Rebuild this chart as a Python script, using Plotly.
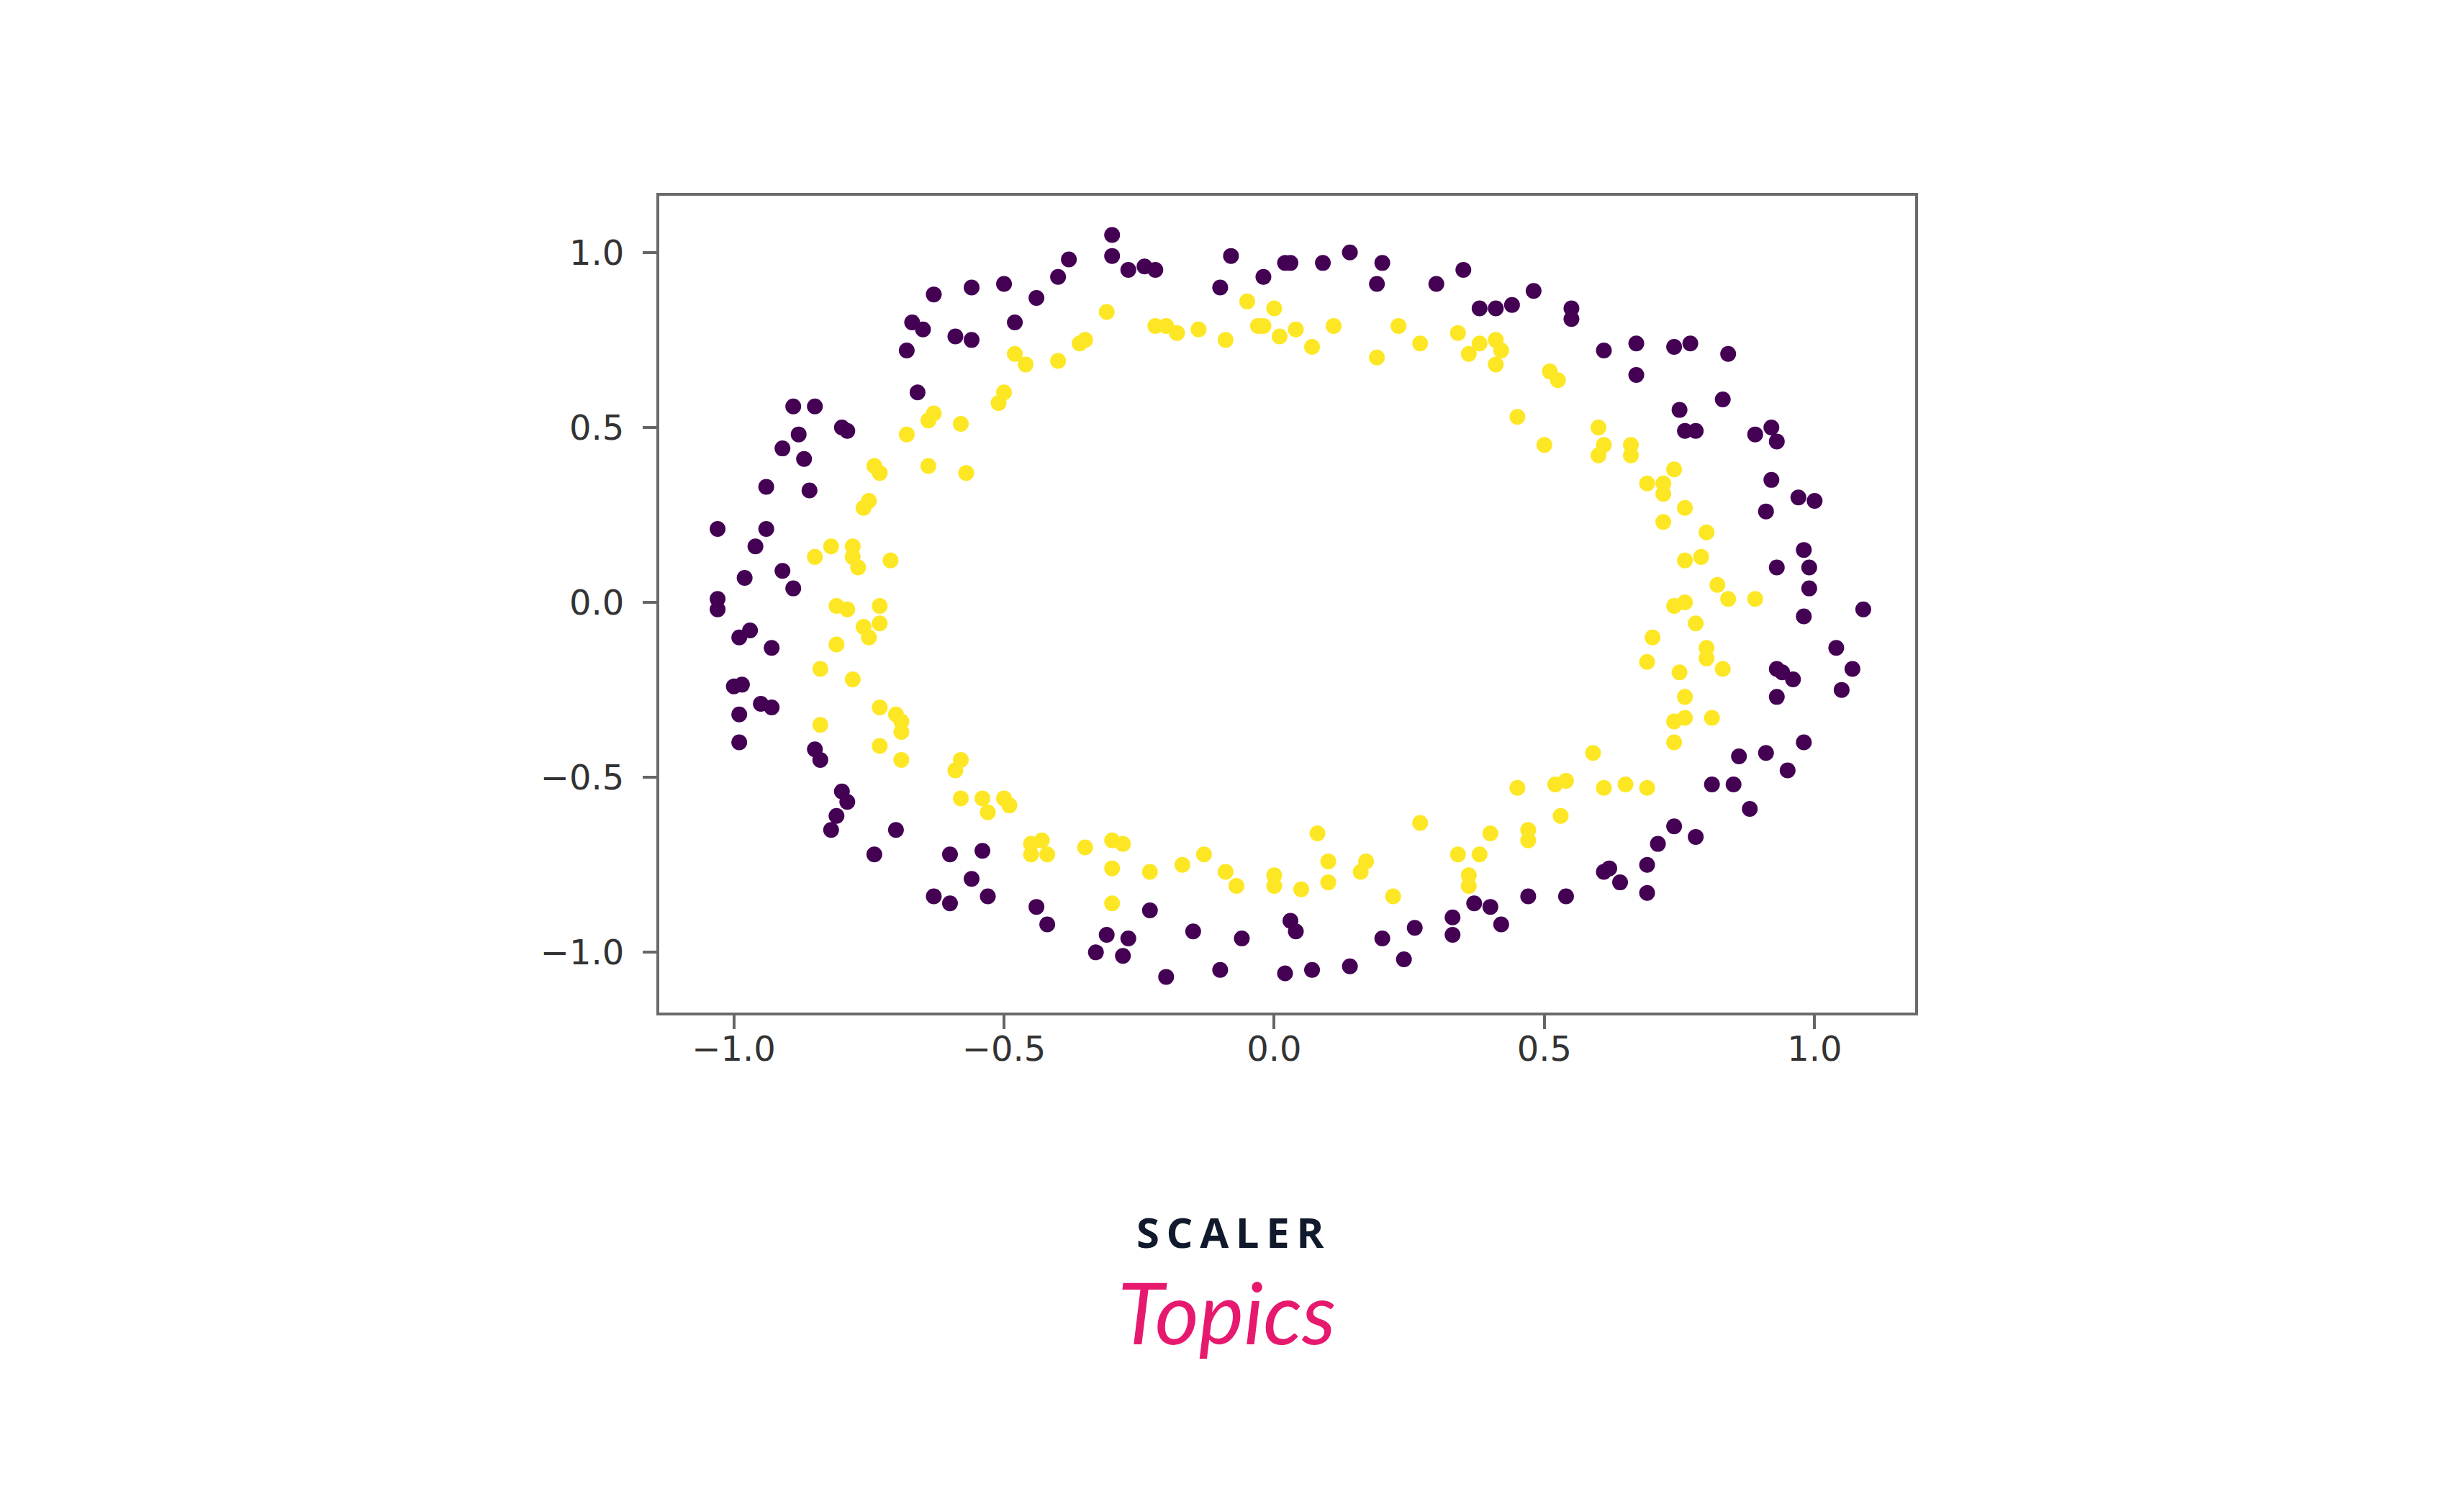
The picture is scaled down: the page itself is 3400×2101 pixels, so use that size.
import plotly.graph_objects as go

# class 0 (outer ring, purple)
outer_x = [-0.38, -0.40, -0.50, -0.56, -0.63, -0.44, -0.48, -0.67, -0.65, -0.59, -0.56, -0.68, -0.66,
           -0.89, -0.85, -0.80, -0.79, -0.88, -0.91, -0.87, -0.94, -0.86, -1.03, -0.94, -0.96, -0.91,
           -0.98, -0.89, -1.03, -1.03,
           -0.99, -0.97, -0.93, -1.00, -0.985, -0.95, -0.93, -0.99, -0.99, -0.85, -0.84, -0.80, -0.79,
           -0.81, -0.82, -0.70, -0.74, -0.60, -0.54, -0.56, -0.63, -0.60, -0.53, -0.44, -0.42,
           -0.33, -0.31, -0.27, -0.28, -0.23, -0.20, -0.15, -0.10, -0.06, 0.02, 0.03, 0.04, 0.07, 0.14,
           0.20, 0.24, 0.26, 0.33, 0.33, 0.37, 0.40,
           0.98, 1.04, 0.93, 0.94, 0.96, 1.07, 1.05, 0.93, 0.98, 0.86, 0.91, 0.95, 0.81, 0.85, 0.88,
           0.74, 0.78, 0.71, 0.69, 0.62, 0.61, 0.64, 0.69, 0.47, 0.54, 0.42,
           -0.30, -0.30, -0.27, -0.24, -0.22, -0.08, -0.10, -0.02, 0.02, 0.03, 0.09, 0.14, 0.20, 0.19,
           0.30, 0.35, 0.38, 0.41,
           0.44, 0.48, 0.55, 0.55, 0.61, 0.67, 0.74, 0.77, 0.84, 0.67, 0.83, 0.75, 0.76, 0.78, 0.89,
           0.92, 0.93, 0.92, 0.97, 1.00, 0.91, 0.98, 0.99, 0.93, 0.99, 1.09]
outer_y = [0.98, 0.93, 0.91, 0.90, 0.88, 0.87, 0.80, 0.80, 0.78, 0.76, 0.75, 0.72, 0.60,
           0.56, 0.56, 0.50, 0.49, 0.48, 0.44, 0.41, 0.33, 0.32, 0.21, 0.21, 0.16, 0.09,
           0.07, 0.04, 0.01, -0.02,
           -0.10, -0.08, -0.13, -0.24, -0.235, -0.29, -0.30, -0.32, -0.40, -0.42, -0.45, -0.54, -0.57,
           -0.61, -0.65, -0.65, -0.72, -0.72, -0.71, -0.79, -0.84, -0.86, -0.84, -0.87, -0.92,
           -1.00, -0.95, -0.96, -1.01, -0.88, -1.07, -0.94, -1.05, -0.96, -1.06, -0.91, -0.94, -1.05, -1.04,
           -0.96, -1.02, -0.93, -0.95, -0.90, -0.86, -0.87,
           -0.04, -0.13, -0.19, -0.20, -0.22, -0.19, -0.25, -0.27, -0.40, -0.44, -0.43, -0.48, -0.52, -0.52, -0.59,
           -0.64, -0.67, -0.69, -0.75, -0.76, -0.77, -0.80, -0.83, -0.84, -0.84, -0.92,
           1.05, 0.99, 0.95, 0.96, 0.95, 0.99, 0.90, 0.93, 0.97, 0.97, 0.97, 1.00, 0.97, 0.91,
           0.91, 0.95, 0.84, 0.84,
           0.85, 0.89, 0.84, 0.81, 0.72, 0.74, 0.73, 0.74, 0.71, 0.65, 0.58, 0.55, 0.49, 0.49, 0.48,
           0.50, 0.46, 0.35, 0.30, 0.29, 0.26, 0.15, 0.10, 0.10, 0.04, -0.02]

# class 1 (inner ring, yellow)
inner_x = [-0.48, -0.46, -0.40, -0.50, -0.51, -0.63, -0.64, -0.58, -0.68, -0.74, -0.73, -0.64, -0.57,
           -0.75, -0.76, -0.82, -0.78, -0.78, -0.77, -0.85, -0.71,
           -0.81, -0.79, -0.73, -0.76, -0.75, -0.73, -0.81, -0.84, -0.78, -0.73, -0.70, -0.69, -0.69,
           -0.84, -0.73, -0.69, -0.58, -0.59, -0.58, -0.54, -0.53, -0.50, -0.49, -0.45, -0.45, -0.43, -0.42,
           -0.35, -0.30, -0.28, -0.30, -0.23, -0.17, -0.13, -0.09, -0.07, -0.30, 0.00, 0.00, 0.05, 0.08,
           0.10, 0.10, 0.17, 0.16, 0.22, 0.27, 0.34, 0.36, 0.36, 0.38, 0.40,
           0.74, 0.84, 0.89, 0.78, 0.70, 0.69, 0.80, 0.80, 0.83, 0.75, 0.76, 0.74, 0.76, 0.81, 0.74,
           0.59, 0.45, 0.52, 0.54, 0.61, 0.65, 0.69, 0.53, 0.47, 0.47,
           -0.36, -0.35, -0.31, -0.22, -0.20, -0.18, -0.14, -0.09, -0.05, 0.00, -0.03, -0.02, 0.01, 0.04,
           0.07, 0.11, 0.19, 0.23, 0.27, 0.34, 0.38, 0.36,
           0.41, 0.42, 0.41, 0.51, 0.525, 0.45, 0.50, 0.60, 0.61, 0.60, 0.66, 0.66, 0.74, 0.69, 0.72,
           0.72, 0.76, 0.72, 0.80, 0.76, 0.79, 0.82, 0.76]
inner_y = [0.71, 0.68, 0.69, 0.60, 0.57, 0.54, 0.52, 0.51, 0.48, 0.39, 0.37, 0.39, 0.37,
           0.29, 0.27, 0.16, 0.16, 0.13, 0.10, 0.13, 0.12,
           -0.01, -0.02, -0.01, -0.07, -0.10, -0.06, -0.12, -0.19, -0.22, -0.30, -0.32, -0.34, -0.37,
           -0.35, -0.41, -0.45, -0.45, -0.48, -0.56, -0.56, -0.60, -0.56, -0.58, -0.72, -0.69, -0.68, -0.72,
           -0.70, -0.68, -0.69, -0.76, -0.77, -0.75, -0.72, -0.77, -0.81, -0.86, -0.78, -0.81, -0.82, -0.66,
           -0.74, -0.80, -0.74, -0.77, -0.84, -0.63, -0.72, -0.78, -0.81, -0.72, -0.66,
           -0.01, 0.01, 0.01, -0.06, -0.10, -0.17, -0.13, -0.16, -0.19, -0.20, -0.27, -0.34, -0.33, -0.33, -0.40,
           -0.43, -0.53, -0.52, -0.51, -0.53, -0.52, -0.53, -0.61, -0.65, -0.68,
           0.74, 0.75, 0.83, 0.79, 0.79, 0.77, 0.78, 0.75, 0.86, 0.84, 0.79, 0.79, 0.76, 0.78,
           0.73, 0.79, 0.70, 0.79, 0.74, 0.77, 0.74, 0.71,
           0.75, 0.72, 0.68, 0.66, 0.635, 0.53, 0.45, 0.50, 0.45, 0.42, 0.45, 0.42, 0.38, 0.34, 0.34,
           0.31, 0.27, 0.23, 0.20, 0.12, 0.13, 0.05, 0.00]

tick_vals = [-1.0, -0.5, 0.0, 0.5, 1.0]
tick_text = ["\u22121.0", "\u22120.5", "0.0", "0.5", "1.0"]

PURPLE = "#440154"
YELLOW = "#fde725"

fig = go.Figure()
fig.add_trace(go.Scatter(x=outer_x, y=outer_y, mode="markers",
                         marker=dict(color=PURPLE, size=22, line=dict(width=0)),
                         showlegend=False, hoverinfo="skip"))
fig.add_trace(go.Scatter(x=inner_x, y=inner_y, mode="markers",
                         marker=dict(color=YELLOW, size=22, line=dict(width=0)),
                         showlegend=False, hoverinfo="skip"))

axis_common = dict(showgrid=False, zeroline=False, showline=True, mirror=True,
                   linecolor="#6a6a6a", linewidth=4, ticks="outside", ticklen=19,
                   tickwidth=4, tickcolor="#666666",
                   tickfont=dict(family="DejaVu Sans", size=48, color="#333333"),
                   tickvals=tick_vals, ticktext=tick_text)

fig.update_layout(
    width=3400, height=2101,
    margin=dict(l=908, r=747, t=264, b=702),
    paper_bgcolor="white", plot_bgcolor="white",
    xaxis=dict(range=[-1.138, 1.186], ticklabelstandoff=-14, **axis_common),
    yaxis=dict(range=[-1.172, 1.162], ticklabelstandoff=16, **axis_common),
    annotations=[
        dict(text="<b>S\u2009C\u2009A\u2009L\u2009E\u2009R</b>", xref="paper", yref="paper",
             x=0.455, y=-0.268, xanchor="center", yanchor="middle", showarrow=False,
             font=dict(family="Open Sans", size=58, color="#111a2c")),
        dict(text="<i>Topics</i>", xref="paper", yref="paper",
             x=0.452, y=-0.366, xanchor="center", yanchor="middle", showarrow=False,
             font=dict(family="Lato", size=118, color="#e6196e")),
    ],
)

fig.write_html("out.html")
